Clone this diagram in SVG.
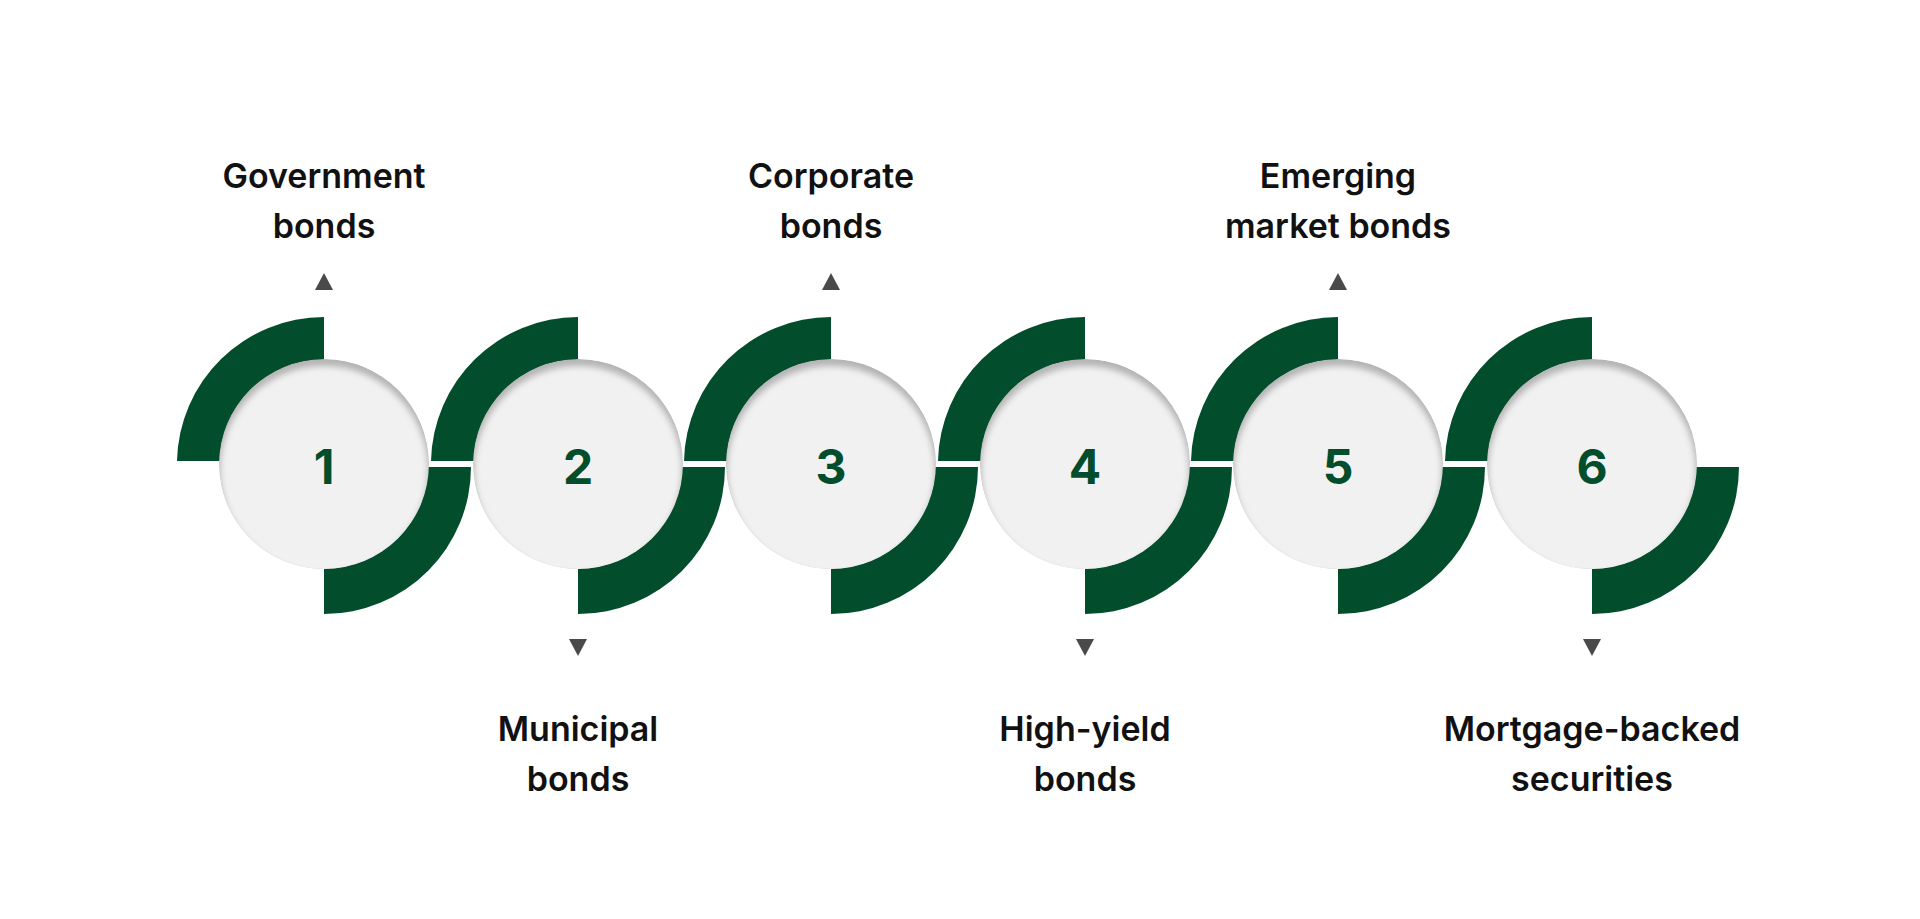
<svg xmlns="http://www.w3.org/2000/svg" width="1920" height="919" viewBox="0 0 1920 919">
<defs>
<style>
.g{fill:#024d2b}
.num{font-family:Inter,"Liberation Sans",sans-serif;font-weight:700;font-size:48px;fill:#024d2b;text-anchor:middle}
.lbl{font-family:Inter,"Liberation Sans",sans-serif;font-weight:600;font-size:34px;fill:#111;text-anchor:middle}
.tri{fill:#4a4a4a}
</style>
<filter id="blur" x="-20%" y="-20%" width="140%" height="140%"><feGaussianBlur stdDeviation="3"/></filter>
<clipPath id="cc"><circle cx="0" cy="0" r="105"/></clipPath>
<g id="disc">
<g clip-path="url(#cc)">
<circle r="105" fill="#b4b4b4"/>
<circle cy="6" r="104" fill="#f1f1f1" filter="url(#blur)"/>
</g>
</g>
<g id="arcs">
<path class="g" d="M-147,-3 A147,147 0 0 1 0,-147 L0,-100 A100,100 0 0 0 -100,-3 Z"/>
<path class="g" d="M147,3 A147,147 0 0 1 0,150 L0,103 A100,100 0 0 0 100,3 Z"/>
</g>
</defs>
<rect width="1920" height="919" fill="#fff"/>
<g id="connectors">
<use href="#arcs" x="324" y="464"/>
<use href="#arcs" x="578" y="464"/>
<use href="#arcs" x="831" y="464"/>
<use href="#arcs" x="1085" y="464"/>
<use href="#arcs" x="1338" y="464"/>
<use href="#arcs" x="1592" y="464"/>
<polygon class="tri" points="315,290 333,290 324,273"/>
<polygon class="tri" points="822,290 840,290 831,273"/>
<polygon class="tri" points="1329,290 1347,290 1338,273"/>
<polygon class="tri" points="569,639 587,639 578,656"/>
<polygon class="tri" points="1076,639 1094,639 1085,656"/>
<polygon class="tri" points="1583,639 1601,639 1592,656"/>
</g>
<g id="n1"><use href="#disc" x="324" y="464"/><text class="num" x="324" y="484">1</text><text class="lbl" x="324" y="188">Government</text><text class="lbl" x="324" y="238">bonds</text></g>
<g id="n2"><use href="#disc" x="578" y="464"/><text class="num" x="578" y="484">2</text><text class="lbl" x="578" y="741">Municipal</text><text class="lbl" x="578" y="791">bonds</text></g>
<g id="n3"><use href="#disc" x="831" y="464"/><text class="num" x="831" y="484">3</text><text class="lbl" x="831" y="188">Corporate</text><text class="lbl" x="831" y="238">bonds</text></g>
<g id="n4"><use href="#disc" x="1085" y="464"/><text class="num" x="1085" y="484">4</text><text class="lbl" x="1085" y="741">High-yield</text><text class="lbl" x="1085" y="791">bonds</text></g>
<g id="n5"><use href="#disc" x="1338" y="464"/><text class="num" x="1338" y="484">5</text><text class="lbl" x="1338" y="188">Emerging</text><text class="lbl" x="1338" y="238">market bonds</text></g>
<g id="n6"><use href="#disc" x="1592" y="464"/><text class="num" x="1592" y="484">6</text><text class="lbl" x="1592" y="741">Mortgage-backed</text><text class="lbl" x="1592" y="791">securities</text></g>
</svg>
